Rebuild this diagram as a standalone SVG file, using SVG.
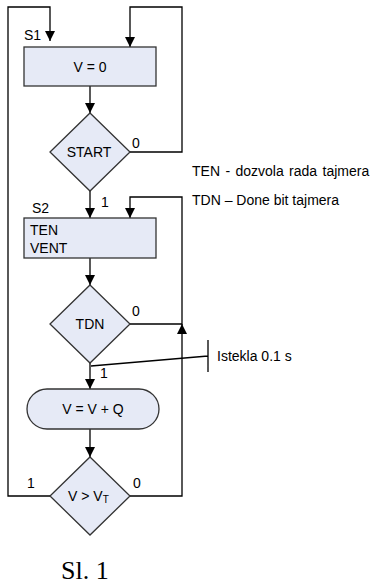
<svg xmlns="http://www.w3.org/2000/svg" width="372" height="585" viewBox="0 0 372 585">
<style>
.shape{fill:#E6EAF6;stroke:#333;stroke-width:1.3}
.line{fill:none;stroke:#000;stroke-width:1.3}
text{font-family:"Liberation Sans",Arial,sans-serif;font-size:14px;fill:#000}
.c{text-anchor:middle}
.cap{font-family:"Liberation Serif","Times New Roman",serif;font-size:26px}
</style>
<defs>
<marker id="arr" markerUnits="userSpaceOnUse" markerWidth="10" markerHeight="10" refX="10" refY="5" orient="auto">
<path d="M0,0 L10,5 L0,10 z" fill="#000"/>
</marker>
</defs>
<rect width="372" height="585" fill="#fff"/>
<g id="connectors">
<path class="line" d="M50,496 H8 V7 H50 V41" marker-end="url(#arr)"/>
<path class="line" d="M130,152 H182 V7 H130 V47" marker-end="url(#arr)"/>
<path class="line" d="M90,86 V113" marker-end="url(#arr)"/>
<path class="line" d="M90,191 V218" marker-end="url(#arr)"/>
<path class="line" d="M130,324 H182 V197 H130 V218" marker-end="url(#arr)"/>
<path class="line" d="M130,496 H182 V324" marker-end="url(#arr)"/>
<path class="line" d="M90,258 V285" marker-end="url(#arr)"/>
<path class="line" d="M90,363 V389" marker-end="url(#arr)"/>
<path class="line" d="M90,429 V457" marker-end="url(#arr)"/>
<path class="line" d="M91,366 L208,356 M208,340 V372" stroke-width="1"/>
<text x="132" y="148">0</text>
<text x="101" y="207">1</text>
<text x="132" y="316">0</text>
<text x="100" y="378">1</text>
<text x="27" y="488">1</text>
<text x="133" y="488">0</text>
</g>
<g id="s1">
<text x="24" y="40">S1</text>
<rect class="shape" x="24" y="47" width="132" height="39"/>
<text class="c" x="90" y="71.5">V = 0</text>
</g>
<g id="start">
<polygon class="shape" points="90,113 130,152 90,191 50,152"/>
<text class="c" x="89" y="157">START</text>
</g>
<g id="s2">
<text x="32" y="213">S2</text>
<rect class="shape" x="24" y="218" width="132" height="40"/>
<text x="30" y="235">TEN</text>
<text x="30" y="253">VENT</text>
</g>
<g id="tdn">
<polygon class="shape" points="90,285 130,324 90,363 50,324"/>
<text class="c" x="90" y="329">TDN</text>
</g>
<g id="calc">
<rect class="shape" x="27" y="389" width="132" height="40" rx="20" ry="20"/>
<text class="c" x="93" y="414">V = V + Q</text>
</g>
<g id="compare">
<polygon class="shape" points="90,457 130,496 90,535 50,496"/>
<text x="68" y="501">V &gt; V<tspan font-size="10" dy="2">T</tspan></text>
</g>
<g id="notes">
<text x="192" y="176" word-spacing="1.5">TEN - dozvola rada tajmera</text>
<text x="192" y="205">TDN – Done bit tajmera</text>
<text x="217" y="361">Istekla 0.1 s</text>
</g>
<g id="caption">
<text class="cap" x="61" y="579">Sl. 1</text>
</g>
</svg>
